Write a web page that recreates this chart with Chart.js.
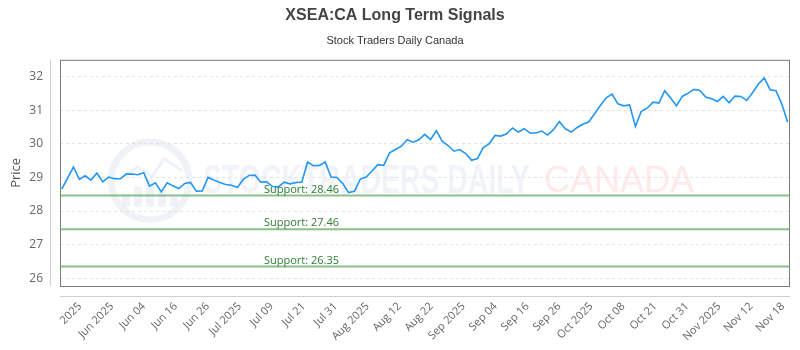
<!DOCTYPE html>
<html>
<head>
<meta charset="utf-8">
<script src="https://cdn.jsdelivr.net/npm/chart.js@4.4.1/dist/chart.umd.min.js"></script>
<style>
  html, body { margin: 0; padding: 0; background: #fff; }
  #wrap { width: 800px; height: 350px; }
</style>
</head>
<body>
<div id="wrap"><canvas id="chart"></canvas></div>
<script>
const chartTitle = 'XSEA:CA Long Term Signals';
const chartSubtitle = 'Stock Traders Daily Canada';

// daily closes
const prices = [
  28.65, 28.98, 29.31, 28.94, 29.05, 28.92, 29.13, 28.87, 29.01, 28.96,
  28.96, 29.10, 29.10, 29.08, 29.14, 28.74, 28.84, 28.57, 28.84, 28.75,
  28.67, 28.82, 28.85, 28.59, 28.60, 29.00, 28.92, 28.85, 28.79, 28.77,
  28.70, 28.94, 29.06, 29.07, 28.86, 28.87, 28.73, 28.72, 28.86, 28.81,
  28.85, 28.86, 29.46, 29.35, 29.36, 29.46, 29.01, 29.00, 28.82, 28.55,
  28.59, 28.95, 29.01, 29.19, 29.38, 29.36, 29.73, 29.83, 29.93, 30.12,
  30.05, 30.12, 30.28, 30.13, 30.39, 30.07, 29.95, 29.78, 29.83, 29.71,
  29.51, 29.56, 29.89, 30.00, 30.25, 30.23, 30.30, 30.47, 30.35, 30.45,
  30.32, 30.32, 30.38, 30.26, 30.42, 30.66, 30.45, 30.35, 30.48, 30.58,
  30.65, 30.89, 31.14, 31.37, 31.48, 31.19, 31.13, 31.16, 30.52, 30.97,
  31.06, 31.24, 31.21, 31.58, 31.36, 31.13, 31.41, 31.51, 31.62, 31.59,
  31.39, 31.34, 31.26, 31.41, 31.22, 31.42, 31.41, 31.29, 31.52, 31.78,
  31.96, 31.61, 31.58, 31.19, 30.64
];

const tickLabels = [
  '2025', 'Jun 2025', 'Jun 04', 'Jun 16', 'Jun 26', 'Jul 2025', 'Jul 09', 'Jul 21',
  'Jul 31', 'Aug 2025', 'Aug 12', 'Aug 22', 'Sep 2025', 'Sep 04', 'Sep 16', 'Sep 26',
  'Oct 2025', 'Oct 08', 'Oct 21', 'Oct 31', 'Nov 2025', 'Nov 12', 'Nov 18'
];

const supportLevels = [28.46, 27.46, 26.35];
const yTicks = [26, 27, 28, 29, 30, 31, 32];

const xMin = -0.3;
const xMax = prices.length - 1 + 0.4;
const firstTick = 3.1;
const tickStep = 5.46;

const green = 'rgba(90, 165, 90, 0.7)';

// watermark, plot frame, offset axis lines and support labels
const decorPlugin = {
    id: 'decor',
    beforeDatasetsDraw(chart) {
        const { ctx, chartArea: a } = chart;
        ctx.save();

        // logo
        const cx = a.left + 90, cy = a.top + 121;
        ctx.strokeStyle = 'rgba(220, 228, 238, 0.45)';
        ctx.lineWidth = 7;
        ctx.beginPath();
        ctx.arc(cx, cy, 39, 0, Math.PI * 2);
        ctx.stroke();
        ctx.fillStyle = 'rgba(220, 228, 238, 0.45)';
        [[-24, 12], [-12, 20], [0, 28], [12, 18], [24, 10]].forEach(([dx, h]) => {
            ctx.fillRect(cx + dx - 4, cy + 26 - h, 8, h);
        });
        ctx.lineWidth = 3;
        ctx.beginPath();
        ctx.moveTo(cx - 30, cy - 2);
        ctx.lineTo(cx - 12, cy - 14);
        ctx.lineTo(cx + 2, cy - 4);
        ctx.lineTo(cx + 14, cy - 22);
        ctx.lineTo(cx + 32, cy - 10);
        ctx.stroke();

        // watermark text
        ctx.font = 'bold 40px "Liberation Sans Narrow", sans-serif';
        ctx.textBaseline = 'alphabetic';
        ctx.textAlign = 'left';
        ctx.fillStyle = 'rgba(228, 234, 242, 0.55)';
        ctx.fillText('STOCKTRADERS DAILY', a.left + 143, a.top + 133, 327);
        ctx.font = '36px "Liberation Sans", sans-serif';
        ctx.fillStyle = 'rgba(255, 214, 214, 0.5)';
        ctx.fillText('CANADA', a.left + 484, a.top + 132, 154);

        // frame
        ctx.strokeStyle = '#7a7a7a';
        ctx.lineWidth = 1;
        ctx.strokeRect(a.left + 0.5, a.top + 0.5, a.right - a.left - 1, a.bottom - a.top);

        // detached axis lines
        ctx.strokeStyle = '#cfcfcf';
        ctx.beginPath();
        ctx.moveTo(a.left - 9.5, a.top);
        ctx.lineTo(a.left - 9.5, a.bottom);
        ctx.moveTo(a.left, a.bottom + 10.5);
        ctx.lineTo(a.right, a.bottom + 10.5);
        ctx.stroke();
        ctx.restore();
    },
    afterDatasetsDraw(chart) {
        const { ctx, chartArea: a, scales } = chart;
        ctx.save();
        ctx.font = '11px "Open Sans", sans-serif';
        ctx.fillStyle = '#2e7d32';
        ctx.textAlign = 'left';
        ctx.textBaseline = 'alphabetic';
        supportLevels.forEach((v) => {
            const y = scales.y.getPixelForValue(v);
            ctx.fillText('Support: ' + v.toFixed(2), a.left + 204, y - 3);
        });
        ctx.restore();
    }
};

Chart.defaults.font.family = '"Open Sans", sans-serif';
Chart.defaults.color = '#666';

const datasets = [{
    data: prices.map((p, i) => ({ x: i, y: p })),
    borderColor: '#2196f3',
    borderWidth: 1.6,
    pointRadius: 0,
    tension: 0,
    order: 0
}];
supportLevels.forEach((v) => {
    datasets.push({
        data: [{ x: xMin, y: v }, { x: xMax, y: v }],
        borderColor: green,
        borderWidth: 2,
        pointRadius: 0,
        order: 1
    });
});

const ctx = document.getElementById('chart').getContext('2d');
new Chart(ctx, {
    type: 'line',
    data: { datasets },
    options: {
        responsive: true,
        maintainAspectRatio: false,
        animation: false,
        layout: { padding: { left: 0, right: 10, top: 0, bottom: 0 } },
        plugins: {
            legend: { display: false },
            tooltip: { enabled: false },
            title: {
                display: true,
                text: chartTitle,
                color: '#444',
                font: { family: '"Liberation Sans", sans-serif', size: 16, weight: 'bold' },
                padding: { top: 6, bottom: 4 }
            },
            subtitle: {
                display: true,
                text: chartSubtitle,
                color: '#333',
                font: { family: '"Liberation Sans", sans-serif', size: 11 },
                padding: { top: 5, bottom: 12.4 }
            }
        },
        scales: {
            x: {
                type: 'linear',
                min: xMin,
                max: xMax,
                afterBuildTicks: (scale) => {
                    scale.ticks = tickLabels.map((_, i) => ({ value: firstTick + i * tickStep }));
                },
                afterFit: (scale) => { scale.height = 64; },
                grid: { display: false },
                border: { display: false },
                ticks: {
                    autoSkip: false,
                    minRotation: 45,
                    maxRotation: 45,
                    padding: 6,
                    font: { size: 11 },
                    callback: (value, index) => tickLabels[index]
                }
            },
            y: {
                min: 25.77,
                max: 32.5,
                afterBuildTicks: (scale) => {
                    scale.ticks = yTicks.map((v) => ({ value: v }));
                },
                afterFit: (scale) => { scale.width = 60; },
                grid: { color: '#e2e2e2', drawTicks: false },
                border: { display: false, dash: [3, 3] },
                ticks: { padding: 17, font: { size: 12 } },
                title: {
                    display: true,
                    text: 'Price',
                    color: '#555',
                    font: { size: 13 },
                    padding: { top: 8, bottom: 0 }
                }
            }
        }
    },
    plugins: [decorPlugin]
});
</script>
</body>
</html>
